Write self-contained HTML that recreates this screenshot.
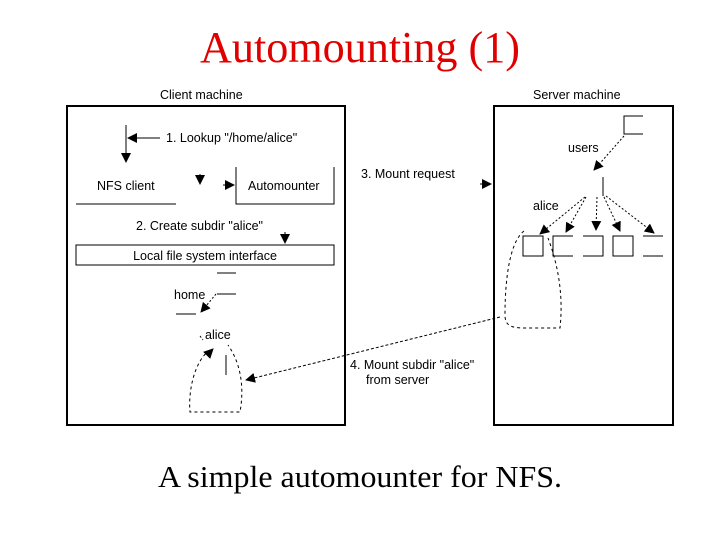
<!DOCTYPE html>
<html><head><style>
body{margin:0;background:#fff;}
svg{display:block;}
text{font-family:"Liberation Sans",sans-serif;font-size:12.5px;fill:#000;}
.t{font-family:"Liberation Serif",serif;}
</style></head><body>
<svg width="720" height="540" viewBox="0 0 720 540" xmlns="http://www.w3.org/2000/svg">
<defs>
<marker id="a" markerWidth="10" markerHeight="10" refX="9" refY="5" orient="auto" markerUnits="userSpaceOnUse">
<path d="M0,0 L10,5 L0,10 z" fill="#000"/></marker>
</defs>
<text class="t" x="360" y="62" text-anchor="middle" textLength="320" lengthAdjust="spacingAndGlyphs" style="font-size:44px;fill:#e00000">Automounting (1)</text>
<text class="t" x="360" y="487" text-anchor="middle" textLength="404" lengthAdjust="spacingAndGlyphs" style="font-size:31px">A simple automounter for NFS.</text>

<text x="160" y="99">Client machine</text>
<text x="533" y="99">Server machine</text>
<rect x="67" y="106" width="278" height="319" fill="none" stroke="#000" stroke-width="2"/>
<rect x="494" y="106" width="179" height="319" fill="none" stroke="#000" stroke-width="2"/>

<g stroke="#000" stroke-width="1" fill="none">
<line x1="126" y1="125" x2="126" y2="162" marker-end="url(#a)"/>
<line x1="160" y1="138" x2="128" y2="138" marker-end="url(#a)"/>
<line x1="76" y1="204" x2="176" y2="204"/>
<line x1="200" y1="174" x2="200" y2="184" marker-end="url(#a)"/>
<line x1="223" y1="185" x2="234" y2="185" marker-end="url(#a)"/>
<polyline points="236,167 236,204 334,204 334,167"/>
<line x1="285" y1="232" x2="285" y2="243" marker-end="url(#a)"/>
<rect x="76" y="245" width="258" height="20"/>
<line x1="217" y1="273" x2="236" y2="273"/>
<line x1="217" y1="294" x2="236" y2="294"/>
<line x1="176" y1="314" x2="196" y2="314"/>
<path d="M216,294 L201,312" stroke-dasharray="2,2" marker-end="url(#a)"/>
<line x1="226" y1="355" x2="226" y2="375"/>
<path d="M200,336 L203,340" stroke-dasharray="2,2"/>
<path d="M210,350 C195,360 188,390 190,412 L240,412 C244,390 242,365 228,345" stroke-dasharray="3,3"/>
<path d="M212,350 L213,349" marker-end="url(#a)"/>
<path d="M500,317 L246,380" stroke-dasharray="3,2" marker-end="url(#a)"/>
<line x1="480" y1="184" x2="491" y2="184" marker-end="url(#a)"/>

<polyline points="643,116 624,116 624,134 643,134"/>
<path d="M624,136 L594,170" stroke-dasharray="2,2" marker-end="url(#a)"/>
<line x1="603" y1="177" x2="603" y2="196"/>
<path d="M585,197 L540,234" stroke-dasharray="2,2" marker-end="url(#a)"/>
<path d="M586,197 L566,232" stroke-dasharray="2,2" marker-end="url(#a)"/>
<path d="M597,197 L596,230" stroke-dasharray="2,2" marker-end="url(#a)"/>
<path d="M604,197 L620,231" stroke-dasharray="2,2" marker-end="url(#a)"/>
<path d="M606,196 L654,233" stroke-dasharray="2,2" marker-end="url(#a)"/>
<rect x="523" y="236" width="20" height="20"/>
<polyline points="573,236 553,236 553,256 573,256"/>
<polyline points="583,236 603,236 603,256 583,256"/>
<rect x="613" y="236" width="20" height="20"/>
<line x1="643" y1="236" x2="663" y2="236"/>
<line x1="643" y1="256" x2="663" y2="256"/>
<path d="M524,231 C512,240 505,270 505,315 C505,325 510,328 525,328 L560,328 C563,300 560,270 548,238" stroke-dasharray="3,3"/>
</g>

<text x="166" y="142">1. Lookup "/home/alice"</text>
<text x="97" y="190">NFS client</text>
<text x="248" y="190">Automounter</text>
<text x="136" y="230">2. Create subdir "alice"</text>
<text x="205" y="260" text-anchor="middle">Local file system interface</text>
<text x="174" y="299">home</text>
<text x="205" y="339">alice</text>
<text x="361" y="178">3. Mount request</text>
<text x="350" y="369">4. Mount subdir "alice"</text>
<text x="366" y="384">from server</text>
<text x="568" y="152">users</text>
<text x="533" y="210">alice</text>
</svg>
</body></html>
